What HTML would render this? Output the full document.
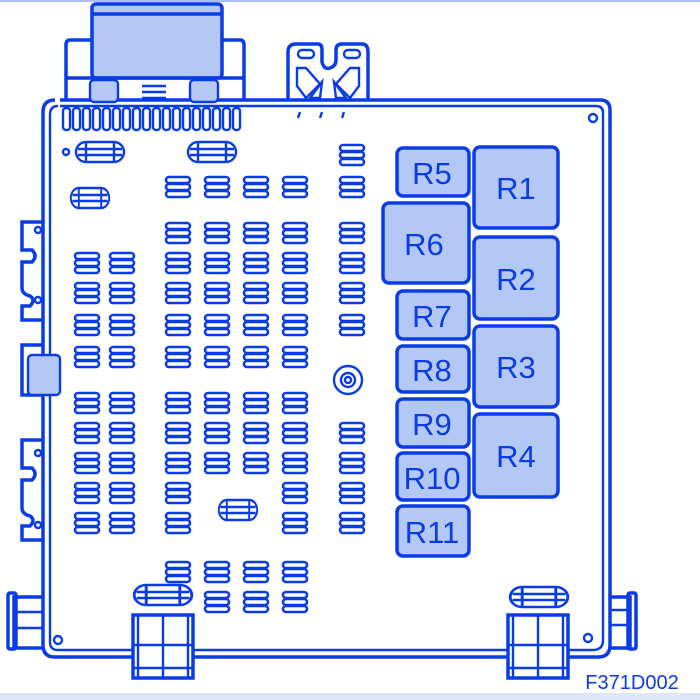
<!DOCTYPE html>
<html><head><meta charset="utf-8"><style>
html,body{margin:0;padding:0;background:#fff;}
svg{display:block;}
</style></head><body>
<svg width="700" height="700" viewBox="0 0 700 700" xmlns="http://www.w3.org/2000/svg">
<defs>
<g id="f" fill="none" stroke="#0a3ce6" stroke-width="2.6">
<rect x="-12" y="-10" width="24" height="6" rx="3"/>
<rect x="-12" y="-3" width="24" height="6" rx="3"/>
<rect x="-12" y="4" width="24" height="6" rx="3"/>
</g>
<g id="ov" fill="none" stroke="#0a3ce6" stroke-width="2.4">
<rect x="-24" y="-10" width="48" height="20" rx="10"/>
<line x1="-22" y1="-3" x2="22" y2="-3"/><line x1="-22" y1="3" x2="22" y2="3"/>
<line x1="-14" y1="-9" x2="-14" y2="9"/><line x1="14" y1="-9" x2="14" y2="9"/>
</g>
</defs>
<rect x="0" y="0" width="700" height="2" fill="#a8c0f4"/>
<rect x="0" y="693" width="700" height="7" fill="#dde6fb"/>
<g fill="none" stroke="#0a3ce6" stroke-width="3.5" stroke-linejoin="round">
<path d="M60 100 H600 Q610 100 610 110 V645 Q610 657 598 657 H55 Q43 657 43 645 V112 Q43 100 55 100"/>
<path d="M60 106 H596 Q603 106 603 113 V640 Q603 650 593 650 H58 Q50 650 50 642 V115 Q50 106 58 106" stroke-width="2.4"/>
<circle cx="593" cy="118" r="4" stroke-width="2.4"/>
<circle cx="66" cy="152" r="3" stroke-width="2.4"/>
<circle cx="58" cy="640" r="4" stroke-width="2.4"/>
<circle cx="588" cy="638" r="4" stroke-width="2.4"/>
<rect x="92" y="4" width="130" height="74" rx="4" fill="#b4c8f8"/>
<line x1="92" y1="14" x2="222" y2="14"/>
<path d="M92 40 H70 Q66 40 66 45 V100 M222 40 H240 Q244 40 244 45 V100"/>
<line x1="66" y1="78" x2="244" y2="78"/>
<rect x="90" y="80" width="28" height="22" rx="4" fill="#b4c8f8" stroke-width="2.4"/>
<rect x="190" y="80" width="28" height="22" rx="4" fill="#b4c8f8" stroke-width="2.4"/>
<g stroke-width="2.4"><line x1="142" y1="86" x2="166" y2="86"/><line x1="142" y1="92" x2="166" y2="92"/><line x1="142" y1="98" x2="166" y2="98"/></g>
</g>
<g fill="none" stroke="#0a3ce6" stroke-width="2.4">
<rect x="63" y="108" width="7" height="22" rx="3"/><rect x="73" y="108" width="7" height="22" rx="3"/><rect x="83" y="108" width="7" height="22" rx="3"/><rect x="93" y="108" width="7" height="22" rx="3"/><rect x="103" y="108" width="7" height="22" rx="3"/><rect x="113" y="108" width="7" height="22" rx="3"/><rect x="123" y="108" width="7" height="22" rx="3"/><rect x="133" y="108" width="7" height="22" rx="3"/><rect x="143" y="108" width="7" height="22" rx="3"/><rect x="153" y="108" width="7" height="22" rx="3"/><rect x="163" y="108" width="7" height="22" rx="3"/><rect x="173" y="108" width="7" height="22" rx="3"/><rect x="183" y="108" width="7" height="22" rx="3"/><rect x="193" y="108" width="7" height="22" rx="3"/><rect x="203" y="108" width="7" height="22" rx="3"/><rect x="213" y="108" width="7" height="22" rx="3"/><rect x="223" y="108" width="7" height="22" rx="3"/><rect x="233" y="108" width="7" height="22" rx="3"/>
<path d="M288 100 V52 Q288 44 296 44 H318 Q322 44 322 50 V62 Q324 70 330 68 Q336 66 336 60 V50 Q336 44 342 44 H362 Q368 44 368 52 V100" stroke-width="3.5"/>
<rect x="298" y="50" width="16" height="8" rx="4"/><rect x="344" y="50" width="16" height="8" rx="4"/>
<path d="M297 68 H306 L320 84 L306 98 L297 86 Z"/><path d="M322 82 L320 98 L310 98 Z"/>
<path d="M359 68 H350 L336 84 L350 98 L359 86 Z"/><path d="M334 82 L336 98 L346 98 Z"/>
<line x1="300" y1="112" x2="298" y2="118"/><line x1="322" y1="112" x2="320" y2="118"/><line x1="344" y1="112" x2="342" y2="118"/>
<path d="M43 222 H22 V250 H32 Q38 256 32 262 H22 V288 Q22 294 30 296 Q36 300 30 306 H22 V320 H43" stroke-width="3.5"/>
<circle cx="38" cy="230" r="3"/><circle cx="38" cy="300" r="3"/>
<path d="M43 345 H22 V395 H43" stroke-width="3.5"/>
<rect x="28" y="355" width="32" height="40" rx="4" fill="#b4c8f8"/>
<path d="M43 440 H22 V468 H32 Q38 474 32 480 H22 V508 Q22 514 30 516 Q36 520 30 526 H22 V540 H43" stroke-width="3.5"/>
<circle cx="38" cy="453" r="3"/><circle cx="38" cy="525" r="3"/>
<path d="M43 597 H14 V648 H43" stroke-width="3.5"/><rect x="8" y="593" width="8" height="56" rx="2" stroke-width="3.5"/>
<line x1="16" y1="612" x2="43" y2="612"/><line x1="16" y1="628" x2="43" y2="628"/>
<path d="M610 597 H630 V648 H610" stroke-width="3.5"/><rect x="628" y="593" width="8" height="56" rx="2" stroke-width="3.5"/>
<line x1="610" y1="610" x2="630" y2="610"/><line x1="610" y1="625" x2="630" y2="625"/>
<rect x="133" y="615" width="60" height="63" stroke-width="3.5" fill="#fff"/>
<line x1="133" y1="645" x2="193" y2="645"/><line x1="133" y1="668" x2="193" y2="668"/>
<line x1="163" y1="615" x2="163" y2="678"/><line x1="138" y1="615" x2="138" y2="678"/><line x1="188" y1="615" x2="188" y2="678"/>
<rect x="508" y="615" width="60" height="63" stroke-width="3.5" fill="#fff"/>
<line x1="508" y1="645" x2="568" y2="645"/><line x1="508" y1="668" x2="568" y2="668"/>
<line x1="538" y1="615" x2="538" y2="678"/><line x1="513" y1="615" x2="513" y2="678"/><line x1="563" y1="615" x2="563" y2="678"/>
<circle cx="348" cy="380" r="14"/><circle cx="348" cy="380" r="7"/><circle cx="348" cy="380" r="3"/>
</g>
<use href="#ov" x="100" y="152"/><use href="#ov" x="212" y="152"/>
<use href="#ov" transform="translate(90 198) scale(0.8 1)"/>
<use href="#ov" transform="translate(238 510) scale(0.8 1)"/>
<use href="#ov" transform="translate(163 595) scale(1.2 1)"/>
<use href="#ov" transform="translate(539 597) scale(1.2 1)"/>
<g>
<use href="#f" x="352" y="155"/>
<use href="#f" x="178" y="187"/><use href="#f" x="217" y="187"/><use href="#f" x="256" y="187"/><use href="#f" x="295" y="187"/><use href="#f" x="352" y="187"/>
<use href="#f" x="178" y="233"/><use href="#f" x="217" y="233"/><use href="#f" x="256" y="233"/><use href="#f" x="295" y="233"/><use href="#f" x="352" y="233"/>
<use href="#f" x="87" y="263"/><use href="#f" x="122" y="263"/><use href="#f" x="178" y="263"/><use href="#f" x="217" y="263"/><use href="#f" x="256" y="263"/><use href="#f" x="295" y="263"/><use href="#f" x="352" y="263"/>
<use href="#f" x="87" y="293"/><use href="#f" x="122" y="293"/><use href="#f" x="178" y="293"/><use href="#f" x="217" y="293"/><use href="#f" x="256" y="293"/><use href="#f" x="295" y="293"/><use href="#f" x="352" y="293"/>
<use href="#f" x="87" y="325"/><use href="#f" x="122" y="325"/><use href="#f" x="178" y="325"/><use href="#f" x="217" y="325"/><use href="#f" x="256" y="325"/><use href="#f" x="295" y="325"/><use href="#f" x="352" y="325"/>
<use href="#f" x="87" y="357"/><use href="#f" x="122" y="357"/><use href="#f" x="178" y="357"/><use href="#f" x="217" y="357"/><use href="#f" x="256" y="357"/><use href="#f" x="295" y="357"/>
<use href="#f" x="87" y="403"/><use href="#f" x="122" y="403"/><use href="#f" x="178" y="403"/><use href="#f" x="217" y="403"/><use href="#f" x="256" y="403"/><use href="#f" x="295" y="403"/>
<use href="#f" x="87" y="433"/><use href="#f" x="122" y="433"/><use href="#f" x="178" y="433"/><use href="#f" x="217" y="433"/><use href="#f" x="256" y="433"/><use href="#f" x="295" y="433"/><use href="#f" x="352" y="433"/>
<use href="#f" x="87" y="463"/><use href="#f" x="122" y="463"/><use href="#f" x="178" y="463"/><use href="#f" x="217" y="463"/><use href="#f" x="256" y="463"/><use href="#f" x="295" y="463"/><use href="#f" x="352" y="463"/>
<use href="#f" x="87" y="493"/><use href="#f" x="122" y="493"/><use href="#f" x="178" y="493"/><use href="#f" x="295" y="493"/><use href="#f" x="352" y="493"/>
<use href="#f" x="87" y="523"/><use href="#f" x="122" y="523"/><use href="#f" x="178" y="523"/><use href="#f" x="295" y="523"/><use href="#f" x="352" y="523"/>
<use href="#f" x="178" y="572"/><use href="#f" x="217" y="572"/><use href="#f" x="256" y="572"/><use href="#f" x="295" y="572"/>
<use href="#f" x="217" y="602"/><use href="#f" x="256" y="602"/><use href="#f" x="295" y="602"/>
</g>
<g fill="#b4c8f8" stroke="#0a3ce6" stroke-width="3.5">
<rect x="397" y="148" width="72" height="48" rx="6"/>
<rect x="474" y="147" width="84" height="81" rx="6"/>
<rect x="383" y="203" width="86" height="80" rx="6"/>
<rect x="474" y="237" width="84" height="82" rx="6"/>
<rect x="397" y="291" width="72" height="48" rx="6"/>
<rect x="474" y="326" width="84" height="81" rx="6"/>
<rect x="397" y="346" width="72" height="46" rx="6"/>
<rect x="397" y="399" width="72" height="48" rx="6"/>
<rect x="474" y="414" width="84" height="83" rx="6"/>
<rect x="397" y="453" width="72" height="47" rx="6"/>
<rect x="397" y="506" width="72" height="50" rx="6"/>
</g>
<g font-family="Liberation Sans, sans-serif" font-size="31" fill="#0a3ce6" text-anchor="middle">
<text x="432" y="184">R5</text>
<text x="516" y="199">R1</text>
<text x="424" y="255">R6</text>
<text x="516" y="290">R2</text>
<text x="432" y="327">R7</text>
<text x="516" y="378">R3</text>
<text x="432" y="381">R8</text>
<text x="432" y="435">R9</text>
<text x="516" y="467">R4</text>
<text x="432" y="489">R10</text>
<text x="432" y="543">R11</text>
</g>
<text x="632" y="689" font-family="Liberation Sans, sans-serif" font-size="20" fill="#0a3ce6" text-anchor="middle">F371D002</text>
</svg>
</body></html>
